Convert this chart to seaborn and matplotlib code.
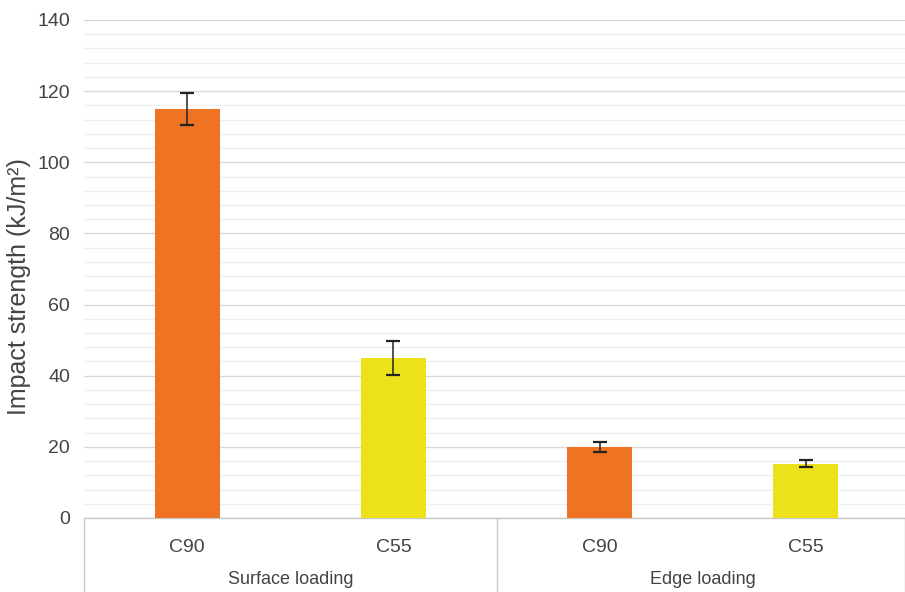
import matplotlib
matplotlib.use("Agg")
import matplotlib.pyplot as plt
import matplotlib.transforms as mtransforms
import seaborn as sns
import pandas as pd
import numpy as np

# Impact strength by grade and loading direction
loading = ["Surface loading", "Surface loading", "Edge loading", "Edge loading"]
grade = ["C90", "C55", "C90", "C55"]
strength = [115.0, 45.0, 20.0, 15.2]
error = [4.4, 4.8, 1.5, 1.0]
groups = ["Surface loading", "Edge loading"]
yticks = [0, 20, 40, 60, 80, 100, 120, 140]

colors = {"C90": "#EE7322", "C55": "#EDE11B"}

df = pd.DataFrame({
    "key": [f"{l}|{g}" for l, g in zip(loading, grade)],
    "loading": loading,
    "grade": grade,
    "strength": strength,
})

sns.set_style("white")
plt.rcParams["font.family"] = ["Liberation Sans", "DejaVu Sans"]

fig = plt.figure(figsize=(9.05, 5.92), dpi=100)
ax = fig.add_axes([84 / 905, 1 - 518 / 592, 1 - 84 / 905, (518 - 20) / 592])

sns.barplot(data=df, x="key", y="strength", hue="grade", palette=colors,
            dodge=False, width=0.315, legend=False, ax=ax, zorder=3,
            linewidth=0, saturation=1)
ax.errorbar(np.arange(len(strength)), strength, yerr=error, fmt="none",
            ecolor="#222222", elinewidth=1.1, capsize=5, capthick=1.6, zorder=4)

ax.set_ylim(0, 140)
ax.set_xlim(-0.5, 3.48)
ax.set_yticks(yticks)
ax.set_yticks(np.arange(0, 141, 4), minor=True)
ax.grid(axis="y", which="major", color="#d9d9d9", linewidth=1.0, zorder=0)
ax.grid(axis="y", which="minor", color="#efefef", linewidth=0.9, zorder=0)
ax.set_axisbelow(True)
for s in ["top", "right", "left"]:
    ax.spines[s].set_visible(False)
ax.spines["bottom"].set_color("#c8c8c8")
ax.spines["bottom"].set_linewidth(1.0)

ax.tick_params(axis="y", which="both", length=0, labelsize=14,
               labelcolor="#444444", pad=10)
ax.tick_params(axis="x", length=0, labelcolor="#444444", pad=15)
ax.set_xticks(range(len(grade)))
ax.set_xticklabels(grade, fontsize=14)
ax.set_xlabel("")
ax.set_ylabel("Impact strength (kJ/m²)", fontsize=18, color="#444444")
ax.yaxis.set_label_coords(-53 / 821, 0.465)

# Group labels and separators under the category axis
trans = mtransforms.blended_transform_factory(ax.transData, ax.transAxes)
below = -61 / 498
for i, g in enumerate(groups):
    ax.text(2 * i + 0.5, below, g, transform=trans, ha="center", va="center",
            fontsize=13, color="#444444")
for xb in [-0.5, 1.5, 3.48]:
    ax.plot([xb, xb], [0, -80 / 498], transform=trans, color="#c8c8c8",
            linewidth=1.0, clip_on=False)

fig.savefig("out.png", dpi=100)
